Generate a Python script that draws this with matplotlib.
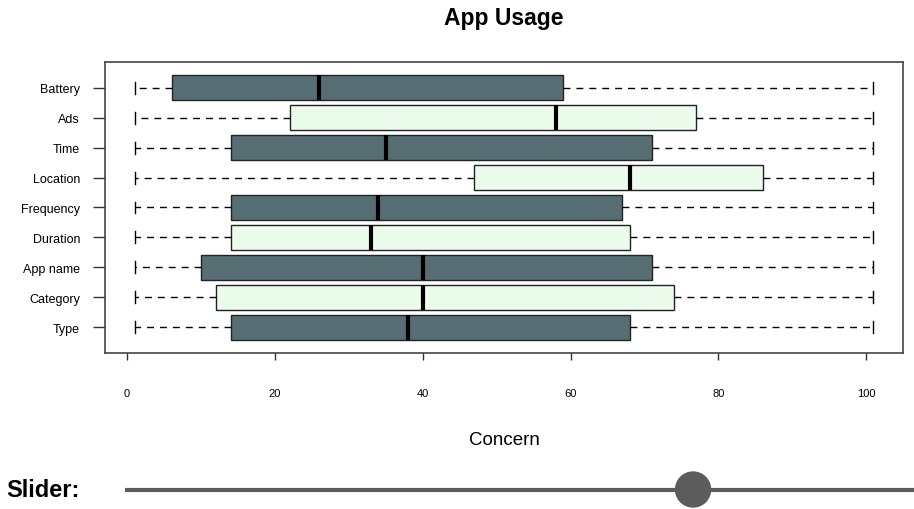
import matplotlib
matplotlib.use("Agg")
import matplotlib.pyplot as plt
from matplotlib.patches import Ellipse

plt.rcParams["font.family"] = ["Liberation Sans", "DejaVu Sans"]
plt.rcParams["lines.scale_dashes"] = False

# Summary statistics per feature (bottom to top)
categories = ["Type", "Category", "App name", "Duration", "Frequency",
              "Location", "Time", "Ads", "Battery"]
whisker_low = [1, 1, 1, 1, 1, 1, 1, 1, 1]
q1 = [14, 12, 10, 14, 14, 47, 14, 22, 6]
median = [38, 40, 40, 33, 34, 68, 35, 58, 26]
q3 = [68, 74, 71, 68, 67, 86, 71, 77, 59]
whisker_high = [101, 101, 101, 101, 101, 101, 101, 101, 101]

x_ticks = [0, 20, 40, 60, 80, 100]
slider_value = 0.72

dark = "#566e73"
light = "#ecfcec"
fills = [dark if i % 2 == 0 else light for i in range(len(categories))]

fig = plt.figure(figsize=(9.14, 5.10), dpi=100)
ax = fig.add_axes([105 / 914, 1 - 354 / 510, (903 - 105) / 914, (354 - 63) / 510])

stats = []
for i, name in enumerate(categories):
    stats.append(dict(label=name, whislo=whisker_low[i], q1=q1[i], med=median[i],
                      q3=q3[i], whishi=whisker_high[i], fliers=[]))

bp = ax.bxp(stats, positions=range(1, len(categories) + 1), orientation="horizontal",
            widths=0.82, patch_artist=True, showfliers=False,
            boxprops=dict(edgecolor="#222222", linewidth=1.0),
            medianprops=dict(color="black", linewidth=3.0, solid_capstyle="butt"),
            whiskerprops=dict(color="black", linewidth=1.0, linestyle=(0, (5, 4.3))),
            capprops=dict(color="black", linewidth=1.0),
            capwidths=0.4)
for patch, c in zip(bp["boxes"], fills):
    patch.set_facecolor(c)

ax.set_xlim(-3, 105)
ax.set_ylim(0.14, 9.86)
ax.set_xticks(x_ticks)
ax.set_xticklabels([str(t) for t in x_ticks], fontsize=8)
ax.set_yticks(range(1, len(categories) + 1))
ax.set_yticklabels(categories, fontsize=9)
ax.tick_params(axis="y", length=9, width=1, color="#333333", pad=9)
ax.tick_params(axis="x", length=5, width=1, color="#333333", pad=20)
for s in ax.spines.values():
    s.set_color("#444444")
    s.set_linewidth(1.2)

ax.set_xlabel("Concern", fontsize=13.5, labelpad=24)
fig.text(504 / 914, 1 - 18 / 510, "App Usage", ha="center", va="center",
         fontsize=16.5, fontweight="bold")

# Slider widget strip
fig.text(6 / 914, 1 - 491 / 510, "Slider:", ha="left", va="center",
         fontsize=17, fontweight="bold")
sax = fig.add_axes([125 / 914, 1 - 510 / 510, 1 - 125 / 914, 40 / 510])
sax.set_xlim(0, 1)
sax.set_ylim(0, 40)
sax.axis("off")
sax.plot([0, 1], [19.5, 19.5], color="#5c5c5c", linewidth=3, solid_capstyle="butt")
sax.add_patch(Ellipse((slider_value, 19.5), width=35 / (914 - 125), height=35,
                      color="#5c5c5c"))

fig.savefig("out.png", dpi=100)
